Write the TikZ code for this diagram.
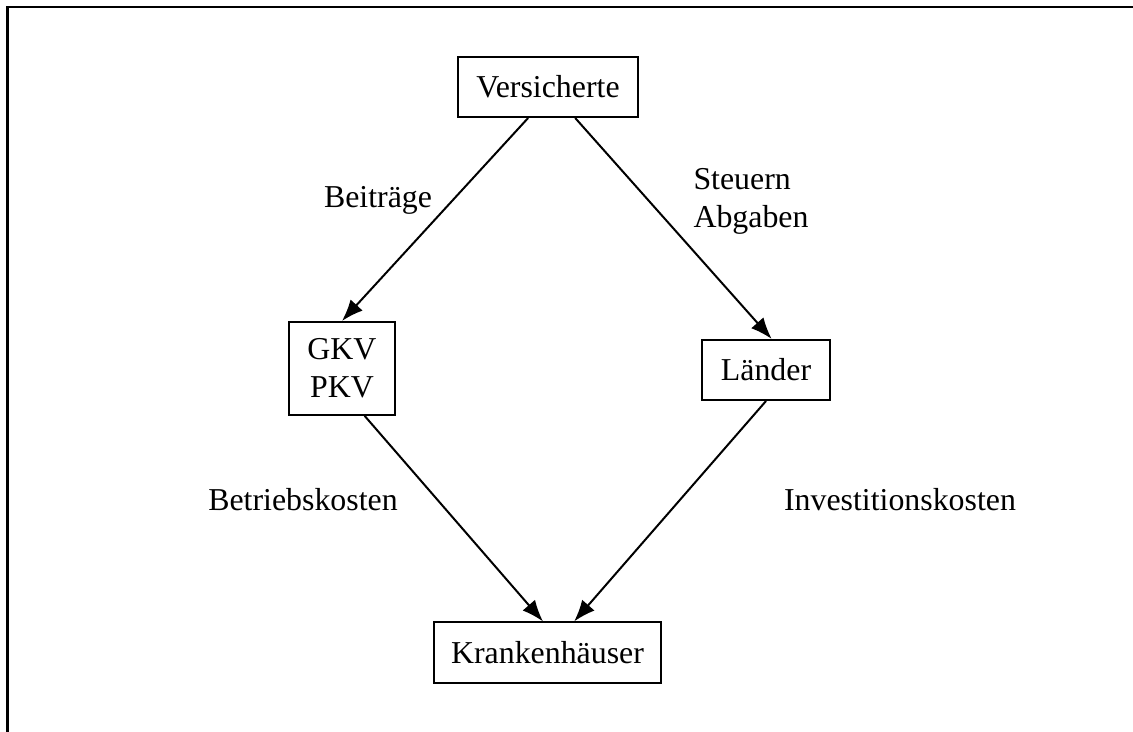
\documentclass[tikz,border=0pt]{standalone}
\usepackage{fontspec}
\setmainfont{Liberation Serif}
\usetikzlibrary{arrows.meta,positioning}

\tikzset{
  stelle/.style={draw,line width=1pt,inner xsep=0.33cm,minimum height=1.06cm,align=center,font=\fontsize{16}{19}\selectfont},
  fluss/.style={font=\fontsize{16}{19}\selectfont,align=left},
}

\begin{document}
\begin{tikzpicture}[>={Latex[length=3.8mm,width=2.9mm]}]
\useasboundingbox (0,0) rectangle (20,12.921);
\draw[line width=1.1pt] (0.132,0) -- (0.132,12.798) -- (20,12.798);
\node[stelle] (vers) at (9.673,11.386) {Versicherte};
\node[stelle,minimum height=1.64cm] (gkv) at (6.037,6.417) {GKV\\PKV};
\node[stelle] (laender) at (13.522,6.390) {Länder};
\node[stelle,inner xsep=0.3cm] (kh) at (9.665,1.403) {Krankenhäuser};
\draw[->,line width=1pt] ([xshift=-0.35cm]vers.south) -- (gkv.north);
\draw[->,line width=1pt] ([xshift=0.48cm]vers.south) -- ([xshift=0.1cm]laender.north);
\draw[->,line width=1pt] ([xshift=0.4cm]gkv.south) -- ([xshift=-0.08cm]kh.north);
\draw[->,line width=1pt] (laender.south) -- ([xshift=0.47cm]kh.north);
\node[fluss] (beitr) at (6.673,9.391) {Beiträge};
\node[fluss] (steuer) at (13.257,9.373) {Steuern\\Abgaben};
\node[fluss] (betrieb) at (5.349,4.095) {Betriebskosten};
\node[fluss] (invest) at (15.887,4.095) {Investitionskosten};
\end{tikzpicture}
\end{document}
